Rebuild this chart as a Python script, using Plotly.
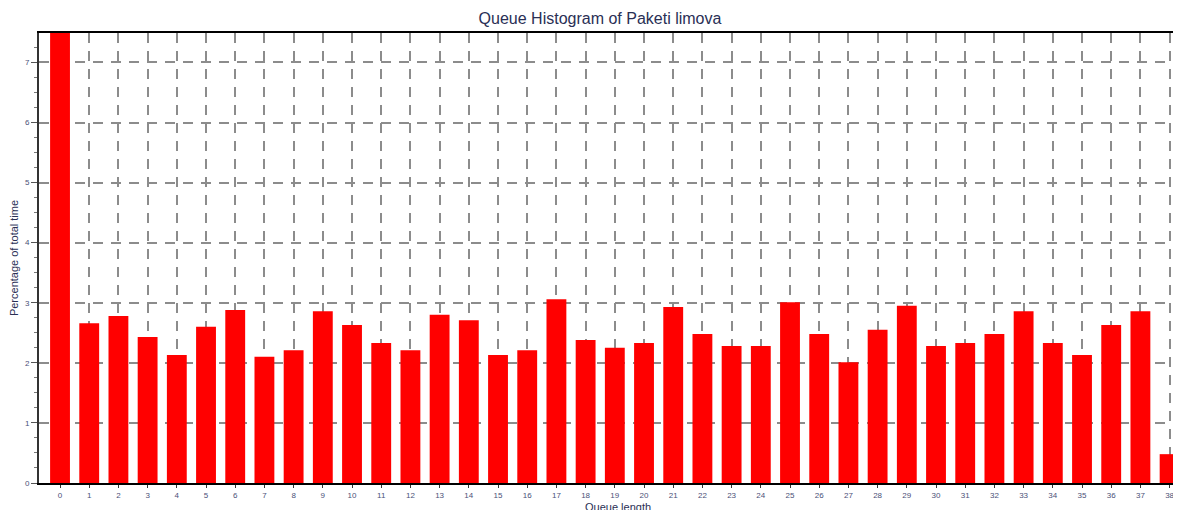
import plotly.graph_objects as go

categories = list(range(39))
tick_labels = [str(c) for c in categories]
percentages = [8.0, 2.66, 2.78, 2.43, 2.13, 2.60, 2.88, 2.10, 2.21, 2.86,
               2.63, 2.33, 2.21, 2.80, 2.71, 2.13, 2.21, 3.06, 2.38, 2.25,
               2.33, 2.93, 2.48, 2.28, 2.28, 3.01, 2.48, 2.01, 2.55, 2.95,
               2.28, 2.33, 2.48, 2.86, 2.33, 2.13, 2.63, 2.86, 0.48]

# the page adds an 8px body margin around the figure
W, H = 1173, 502
L, R, T, B = 31, 0, 25, 27
plot_w, plot_h = W - L - R, H - T - B

fig = go.Figure()
fig.add_trace(go.Bar(
    x=categories, y=percentages, width=0.68,
    marker=dict(color="#ff0000", line=dict(width=0)),
    hoverinfo="x+y",
))

font_fam = "Liberation Sans, Arial, sans-serif"
fig.update_layout(
    width=W, height=H,
    margin=dict(l=L, r=R, t=T, b=B, autoexpand=False),
    paper_bgcolor="white", plot_bgcolor="white",
    showlegend=False,
    font=dict(family=font_fam, size=8, color="#4a5078"),
    title=dict(text="Queue Histogram of Paketi limova", x=592 / W, xanchor="center",
               y=1 - 10 / H, yanchor="middle", yref="container",
               font=dict(size=16, color="#2a2f55", family=font_fam)),
    xaxis=dict(
        range=[-0.72, 38.39], tickmode="array", tickvals=categories, ticktext=tick_labels,
        showgrid=True, gridcolor="#8c8c8c", gridwidth=2, griddash="10px,8px",
        showline=True, linecolor="black", linewidth=2, mirror=True,
        ticks="outside", ticklen=3, tickcolor="#333", zeroline=False,
        tickfont=dict(size=8, color="#4a5078"),
        automargin=False, fixedrange=True,
    ),
    yaxis=dict(
        range=[0, 7.49], tickmode="linear", tick0=0, dtick=1,
        showgrid=True, gridcolor="#8c8c8c", gridwidth=2, griddash="10px,8px",
        showline=True, linecolor="#333", linewidth=2, mirror=False,
        ticks="outside", ticklen=6, tickcolor="#555", zeroline=False,
        tickfont=dict(size=8, color="#4a5078"),
        minor=dict(dtick=0.25, ticks="outside", ticklen=3, tickcolor="#777", showgrid=False),
        title=dict(text="Percentage of total time", standoff=4,
                   font=dict(size=11, color="#2a2f55")),
        automargin=False, fixedrange=True,
    ),
    annotations=[dict(
        text="Queue length", xref="paper", yref="paper",
        x=(610 - L) / plot_w, y=-(491 - (H - B)) / plot_h,
        xanchor="center", yanchor="top", showarrow=False,
        font=dict(size=11, color="#2a2f55", family=font_fam),
    )],
)

fig.write_html("out.html")
